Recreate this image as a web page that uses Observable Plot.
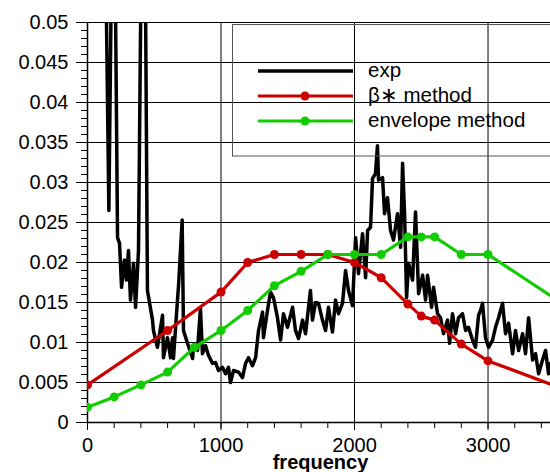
<!DOCTYPE html>
<html>
<head>
<meta charset="utf-8">
<script src="https://cdn.jsdelivr.net/npm/d3@7"></script>
<script src="https://cdn.jsdelivr.net/npm/@observablehq/plot@0.6"></script>
<style>
  html, body { margin: 0; padding: 0; background: white; overflow: hidden; }
  svg { display: block; }
</style>
</head>
<body>
<div id="chart"></div>
<script>
// ---- data ----
const expFreq = [120,160,195,225,240,255,277,292,307,322,345,360,382,420,449,487,494,524,562,569,599,622,637,644,674,682,709,719,749,787,794,824,846,861,884,906,936,959,981,1011,1034,1056,1071,1094,1131,1161,1184,1206,1236,1259,1281,1311,1318,1348,1371,1393,1423,1446,1468,1498,1536,1558,1581,1611,1633,1670,1685,1708,1730,1760,1783,1805,1835,1858,1880,1910,1933,1955,1985,2008,2030,2060,2083,2098,2120,2135,2157,2172,2180,2210,2225,2247,2270,2292,2322,2345,2360,2375,2390,2405,2435,2457,2480,2510,2532,2547,2577,2592,2622,2644,2667,2697,2712,2734,2757,2779,2809,2832,2854,2884,2906,2929,2944,2959,2981,3004,3034,3056,3079,3109,3131,3154,3184,3206,3229,3259,3281,3304,3334,3356,3379,3408,3431,3453,3468,3490];
const expValue = [0.08,0.0265,0.08,0.0231,0.0224,0.0169,0.0203,0.0178,0.0215,0.0153,0.0199,0.0144,0.0215,0.09,0.0165,0.0128,0.0115,0.0094,0.0134,0.0081,0.0106,0.0081,0.0106,0.0080,0.0153,0.0171,0.0253,0.0115,0.0099,0.0080,0.0096,0.0090,0.0143,0.0086,0.0096,0.0084,0.0074,0.0075,0.0065,0.0069,0.0061,0.0069,0.0050,0.0065,0.0063,0.0056,0.0074,0.0081,0.0071,0.0081,0.0115,0.0138,0.0106,0.0140,0.0163,0.0156,0.0131,0.0103,0.0136,0.0119,0.0144,0.0115,0.0105,0.0128,0.0111,0.0165,0.0128,0.0150,0.0149,0.0128,0.0115,0.0144,0.0113,0.0153,0.0136,0.0149,0.0190,0.0165,0.0146,0.0231,0.0186,0.0236,0.0181,0.0240,0.0244,0.0305,0.0311,0.0346,0.0303,0.0306,0.0261,0.0281,0.0240,0.0228,0.0261,0.0219,0.0324,0.0261,0.0156,0.0199,0.0178,0.0263,0.0161,0.0184,0.0153,0.0184,0.0144,0.0169,0.0136,0.0131,0.0111,0.0128,0.0099,0.0136,0.0111,0.0131,0.0136,0.0115,0.0119,0.0103,0.0094,0.0134,0.0140,0.0149,0.0106,0.0094,0.0103,0.0119,0.0131,0.0149,0.0111,0.0124,0.0086,0.0115,0.0090,0.0111,0.0086,0.0131,0.0078,0.0086,0.0061,0.0078,0.0090,0.0061,0.0074,0.0070];

const betaFreq  = [0,600,1000,1200,1400,1600,1800,2000,2200,2400,2500,2600,2800,3000,3500];
const betaValue = [0.0047,0.0115,0.0163,0.0200,0.0210,0.0210,0.0210,0.0200,0.0181,0.0148,0.0133,0.0128,0.0098,0.0077,0.0046];

const envFreq  = [0,200,400,600,800,1000,1200,1400,1600,1800,2000,2200,2400,2500,2600,2800,3000,3500];
const envValue = [0.0019,0.0032,0.0047,0.0063,0.0094,0.0115,0.0140,0.0171,0.0189,0.0210,0.0210,0.0210,0.0232,0.0232,0.0232,0.0210,0.0210,0.0155];

const seriesNames = ["exp", "\u03B2\u2217 method", "envelope method"];
const seriesColors = ["#000000", "#cc0000", "#11cc00"];

const xTicks = [0, 1000, 2000, 3000];
const xTickLabels = ["0", "1000", "2000", "3000"];
const yTicks = [0, 0.005, 0.01, 0.015, 0.02, 0.025, 0.03, 0.035, 0.04, 0.045, 0.05];
const yTickLabels = ["0", "0.005", "0.01", "0.015", "0.02", "0.025", "0.03", "0.035", "0.04", "0.045", "0.05"];
const xMinor = d3.range(0, 3500, 200);
const yMinor = d3.range(0, 0.0505, 0.001);
const xLabel = "frequency";

const exp = expFreq.map((f, i) => ({f, v: expValue[i]}));
const beta = betaFreq.map((f, i) => ({f, v: betaValue[i]}));
const env = envFreq.map((f, i) => ({f, v: envValue[i]}));

const W = 550, H = 472, ML = 87, MT = 22, MB = 50;
const FONT = "'Liberation Sans', Arial, sans-serif";

const chart = Plot.plot({
  width: W, height: H,
  marginLeft: ML, marginTop: MT, marginBottom: MB, marginRight: 0,
  x: {domain: [0, 3468]},
  y: {domain: [0, 0.05]},
  style: {fontFamily: FONT, fontSize: "20px", color: "black", background: "white"},
  marks: [
    Plot.gridY(yTicks, {stroke: "black", strokeOpacity: 1, strokeWidth: 1}),
    Plot.gridX(xTicks, {stroke: "black", strokeOpacity: 1, strokeWidth: 1}),
    Plot.axisY(yMinor, {tickSize: 6, text: null, label: null}),
    Plot.axisY(yTicks, {tickSize: 11, tickPadding: 8, tickFormat: (d) => yTickLabels[yTicks.indexOf(d)], label: null, fontSize: 20}),
    Plot.axisX(xMinor, {tickSize: 6, text: null, label: null}),
    Plot.axisX(xTicks, {tickSize: 8, tickPadding: 7, tickFormat: (d) => xTickLabels[xTicks.indexOf(d)], label: null, fontSize: 20}),
    Plot.ruleX([0], {stroke: "black", strokeWidth: 1.5}),
    Plot.ruleY([0.05], {stroke: "black", strokeWidth: 1}),
    Plot.ruleY([0], {stroke: "black", strokeWidth: 1.5}),
    Plot.line(exp, {x: "f", y: "v", stroke: seriesColors[0], strokeWidth: 3.5, clip: true, strokeLinejoin: "round"}),
    Plot.line(beta, {x: "f", y: "v", stroke: seriesColors[1], strokeWidth: 3.2, clip: true}),
    Plot.dot(beta, {x: "f", y: "v", fill: seriesColors[1], r: 4.5, clip: true}),
    Plot.line(env, {x: "f", y: "v", stroke: seriesColors[2], strokeWidth: 3.2, clip: true}),
    Plot.dot(env, {x: "f", y: "v", fill: seriesColors[2], r: 4.5, clip: true})
  ]
});

document.getElementById("chart").appendChild(chart);

// ---- legend & axis title ----
const svg = d3.select(chart);
const lg = svg.append("g");
lg.append("rect").attr("x", 232.5).attr("y", 24.5).attr("width", 340).attr("height", 131.5)
  .attr("fill", "none").attr("stroke", "#555").attr("stroke-width", 1);
const rowsY = [71, 96, 121];
seriesNames.forEach((name, i) => {
  const y = rowsY[i];
  lg.append("line").attr("x1", 258).attr("x2", 353).attr("y1", y).attr("y2", y)
    .attr("stroke", seriesColors[i]).attr("stroke-width", i === 0 ? 3.5 : 3);
  if (i > 0) lg.append("circle").attr("cx", 305).attr("cy", y).attr("r", 4.5).attr("fill", seriesColors[i]);
  lg.append("text").attr("x", 368).attr("y", y + 6).attr("font-size", 20.5)
    .attr("text-anchor", "start")
    .attr("font-family", FONT).attr("fill", "black").text(name);
});
svg.append("text").attr("x", (ML + 554) / 2).attr("y", 469).attr("text-anchor", "middle")
  .attr("font-size", 20).attr("font-weight", "bold")
  .attr("font-family", FONT).text(xLabel);
</script>
</body>
</html>
